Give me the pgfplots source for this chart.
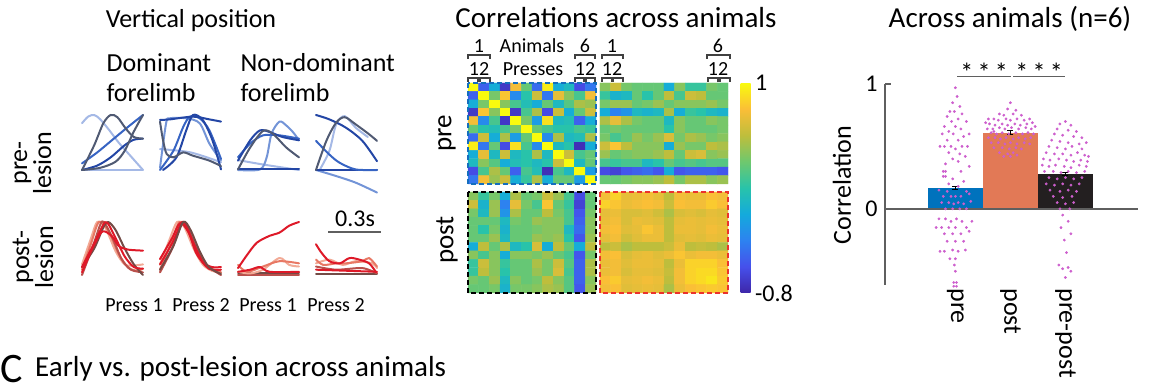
\documentclass[border=0pt]{standalone}
\usepackage{fontspec}
\setmainfont{Carlito}
\usepackage{pgfplots}
\pgfplotsset{compat=1.18}
\definecolor{B1}{RGB}{165,185,230}
\definecolor{B2}{RGB}{115,148,215}
\definecolor{B3}{RGB}{55,100,195}
\definecolor{B4}{RGB}{35,70,165}
\definecolor{B5}{RGB}{80,90,115}
\definecolor{R1}{RGB}{222,25,40}
\definecolor{R2}{RGB}{232,120,100}
\definecolor{R3}{RGB}{242,170,150}
\definecolor{R4}{RGB}{115,75,70}
\definecolor{R5}{RGB}{185,80,75}
\definecolor{preblue}{RGB}{0,114,189}
\definecolor{postorange}{RGB}{226,121,86}
\definecolor{ppblack}{RGB}{35,31,32}
\definecolor{dotpink}{RGB}{205,95,205}
\definecolor{axgray}{RGB}{95,95,95}
\definecolor{dashblue}{RGB}{20,110,190}
\definecolor{dashred}{RGB}{235,50,45}
\pgfplotsset{
  mini/.style={anchor=south west, scale only axis, width=61pt, height=55pt,
    xmin=0, xmax=1, ymin=0, ymax=1, hide axis, clip=false},
  tr/.style={line width=2pt, smooth, tension=0.5, line cap=round, line join=round},
  colormap={parula}{rgb255=(62,38,168) rgb255=(70,80,235) rgb255=(45,130,240) rgb255=(20,170,220) rgb255=(40,195,170) rgb255=(110,200,110) rgb255=(190,190,60) rgb255=(250,190,55) rgb255=(249,251,14)},
  blk/.style 2 args={matrix plot*, mesh/cols=12, point meta=explicit},
}
\newcommand\fs[1]{\fontsize{#1}{#1}\selectfont}
\newcommand\brk[3]{\draw[line width=1.1pt, black!75] (#1,#3-4) -- (#1,#3) -- (#2,#3) -- (#2,#3-4);}
\newcommand\RW{floor((\coordindex+0.5)/12)}
\newcommand\CL{(\coordindex-12*floor((\coordindex+0.5)/12))}
\begin{document}
\begin{tikzpicture}[x=1pt,y=1pt]
\useasboundingbox (0,0) rectangle (1151,387);
% ---------------- left panel texts
\node[anchor=base, font=\fs{26}] at (191,359) {Vertical position};
\node[anchor=base west, font=\fs{26}] at (103,315) {Dominant};
\node[anchor=base west, font=\fs{26}] at (103,285) {forelimb};
\node[anchor=base west, font=\fs{26}] at (237,315) {Non-dominant};
\node[anchor=base west, font=\fs{26}] at (237,285) {forelimb};
\node[rotate=90, align=center, font=\fontsize{26}{24}\selectfont] at (33,224) {pre-\\lesion};
\node[rotate=90, align=center, font=\fontsize{26}{24}\selectfont] at (33,130) {post-\\lesion};
\node[anchor=base, font=\fs{20}] at (134,75) {Press 1};
\node[anchor=base, font=\fs{20}] at (201,75) {Press 2};
\node[anchor=base, font=\fs{20}] at (268,75) {Press 1};
\node[anchor=base, font=\fs{20}] at (336,75) {Press 2};
\draw[line width=2pt, axgray] (328,155) -- (381,155);
\node[anchor=base, font=\fs{24}] at (355,160) {0.3s};
% ---------------- pre-lesion traces
\begin{axis}[mini, at={(82pt,217pt)}]
\addplot[tr,B1] coordinates {(0,0.85)(0.1,0.97)(0.2,1.0)(0.3,0.92)(0.45,0.72)(0.6,0.5)(0.8,0.25)(1,0)};
\addplot[tr,B1] coordinates {(0,0)(0.5,0)(1,0)};
\addplot[tr,B3] coordinates {(0,0.12)(0.25,0.32)(0.5,0.55)(0.75,0.78)(1,1.0)};
\addplot[tr,B4] coordinates {(0,0)(0.25,0.08)(0.47,0.23)(0.7,0.45)(0.85,0.55)(1,0.57)};
\addplot[tr,B5] coordinates {(0,0)(0.2,0.45)(0.35,0.85)(0.47,1.0)(0.58,0.96)(0.72,0.75)(0.85,0.6)(1,0.57)};
\addplot[tr,B5] coordinates {(0,0)(0.3,0.04)(0.55,0.15)(0.7,0.35)(0.85,0.7)(1,1.0)};
\end{axis}
\begin{axis}[mini, at={(160pt,217pt)}]
\addplot[tr,B1] coordinates {(0,0.38)(0.5,0.32)(1,0.14)};
\addplot[tr,B2] coordinates {(0,0.04)(0.1,0.85)(0.16,0.94)(0.43,0.94)(0.65,0.85)(0.81,0.48)(1,0.17)};
\addplot[tr,B3] coordinates {(0,0)(0.22,0.35)(0.38,0.78)(0.49,0.97)(0.65,0.94)(0.81,0.72)(1,0.2)};
\addplot[tr,B4] coordinates {(0,0.91)(0.16,0.92)(0.54,0.97)(0.81,0.92)(1,0.88)};
\addplot[tr,B4] coordinates {(0.05,0)(0.27,0.23)(0.43,0.72)(0.54,1.0)(0.7,0.91)(0.86,0.54)(1,0.01)};
\addplot[tr,B5] coordinates {(0,0.88)(0.05,0.54)(0.11,0.29)(0.22,0.23)(0.38,0.32)(0.54,0.26)(0.81,0.17)(1,0.07)};
\end{axis}
\begin{axis}[mini, at={(238pt,217pt)}]
\addplot[tr,B1] coordinates {(0,0.18)(0.41,0.1)(1,0)};
\addplot[tr,B2] coordinates {(0,0)(0.36,0.01)(0.47,0.23)(0.55,0.66)(0.68,0.88)(0.79,0.81)(0.9,0.69)(1,0.54)};
\addplot[tr,B3] coordinates {(0,0.23)(0.2,0.48)(0.41,0.63)(0.68,0.63)(1,0.57)};
\addplot[tr,B4] coordinates {(0,0.17)(0.2,0.54)(0.36,0.72)(0.52,0.69)(0.73,0.6)(1,0.54)};
\addplot[tr,B4] coordinates {(0,0.01)(0.5,0.01)(1,0.01)};
\addplot[tr,B5] coordinates {(0,0.01)(0.2,0.41)(0.41,0.71)(0.57,0.66)(0.79,0.41)(1,0.23)};
\end{axis}
\begin{axis}[mini, at={(316pt,217pt)}]
\addplot[tr,B2] coordinates {(0,0)(0.33,-0.11)(0.65,-0.23)(1,-0.41)};
\addplot[tr,B1] coordinates {(0.06,0)(0.22,0.35)(0.33,0.83)(0.47,0.98)(0.65,0.77)(0.85,0.6)};
\addplot[tr,B4] coordinates {(0,0)(0.5,0)(1,0)};
\addplot[tr,B3] coordinates {(0,0.53)(0.22,0.28)(0.39,0.13)(0.65,0.01)(1,0)};
\addplot[tr,B4] coordinates {(0,1.0)(0.22,0.92)(0.49,0.77)(0.76,0.53)(1,0.16)};
\addplot[tr,B5] coordinates {(0,0)(0.17,0.53)(0.33,0.86)(0.47,0.96)(0.65,0.83)(0.87,0.65)(1,0.53)};
\end{axis}
% ---------------- post-lesion traces
\begin{axis}[mini, height=53pt, at={(82pt,112pt)}]
\addplot[tr,R3] coordinates {(0,0.2)(0.15,0.7)(0.25,1.0)(0.38,0.9)(0.55,0.45)(0.7,0.2)(0.85,0.18)(1,0.2)};
\addplot[tr,R2] coordinates {(0,0.1)(0.15,0.6)(0.25,0.95)(0.32,1.0)(0.45,0.8)(0.6,0.4)(0.75,0.15)(0.9,0.08)(1,0.12)};
\addplot[tr,R5] coordinates {(0,0)(0.18,0.55)(0.3,0.95)(0.36,1.0)(0.5,0.7)(0.65,0.3)(0.8,0.1)(1,0.05)};
\addplot[tr,R4] coordinates {(0,0.15)(0.2,0.5)(0.35,0.9)(0.43,1.0)(0.55,0.85)(0.7,0.5)(0.85,0.2)(1,0.0)};
\addplot[tr,R1] coordinates {(0,0.05)(0.15,0.45)(0.3,0.78)(0.38,0.82)(0.5,0.72)(0.6,0.55)(0.75,0.48)(1,0.46)};
\addplot[tr,R1] coordinates {(0,0.15)(0.2,0.6)(0.35,0.95)(0.42,0.98)(0.55,0.7)(0.7,0.35)(0.85,0.15)(1,0.12)};
\end{axis}
\begin{axis}[mini, height=53pt, at={(160pt,112pt)}]
\addplot[tr,R3] coordinates {(0,0.2)(0.15,0.65)(0.28,1.0)(0.4,0.9)(0.55,0.5)(0.7,0.2)(0.85,0.08)(1,0.05)};
\addplot[tr,R2] coordinates {(0,0.1)(0.18,0.6)(0.32,1.0)(0.45,0.85)(0.6,0.45)(0.75,0.18)(1,0.05)};
\addplot[tr,R5] coordinates {(0,0.05)(0.2,0.5)(0.35,0.95)(0.45,0.9)(0.6,0.5)(0.75,0.2)(1,0.0)};
\addplot[tr,R1] coordinates {(0,0.2)(0.2,0.6)(0.35,0.98)(0.42,0.95)(0.55,0.6)(0.7,0.25)(0.85,0.15)(1,0.15)};
\addplot[tr,R1] coordinates {(0,0.3)(0.2,0.7)(0.33,0.98)(0.47,0.8)(0.6,0.4)(0.8,0.12)(1,0.1)};
\addplot[tr,R4] coordinates {(0,0.1)(0.22,0.55)(0.38,1.0)(0.5,0.85)(0.65,0.45)(0.8,0.15)(1,0.02)};
\end{axis}
\begin{axis}[mini, height=53pt, at={(238pt,112pt)}]
\addplot[tr,R5] coordinates {(0,0)(0.5,0)(1,0)};
\addplot[tr,R4] coordinates {(0,0.03)(0.5,0.03)(1,0.03)};
\addplot[tr,R3] coordinates {(0,0.06)(0.2,0.03)(0.41,0.1)(0.68,0.32)(0.84,0.19)(1,0.16)};
\addplot[tr,R2] coordinates {(0,0.19)(0.15,0.06)(0.41,0.16)(0.68,0.26)(1,0.22)};
\addplot[tr,R1] coordinates {(0,0.06)(0.2,0.1)(0.36,0.15)(0.52,0.06)(1,0.06)};
\addplot[tr,R1] coordinates {(0,0.13)(0.15,0.38)(0.31,0.61)(0.52,0.74)(0.68,0.8)(0.84,0.93)(1,1.0)};
\end{axis}
\begin{axis}[mini, height=53pt, at={(316pt,112pt)}]
\addplot[tr,R4] coordinates {(0,0.02)(0.5,0.02)(1,0.02)};
\addplot[tr,R3] coordinates {(0,0.22)(0.22,0.29)(0.44,0.19)(0.65,0.26)(0.92,0.22)(1,0.13)};
\addplot[tr,R2] coordinates {(0,0.29)(0.12,0.19)(0.33,0.22)(0.49,0.22)(0.76,0.26)(0.87,0.32)(1,0.16)};
\addplot[tr,R5] coordinates {(0,0.16)(0.33,0.1)(0.76,0.13)(1,0.03)};
\addplot[tr,R1] coordinates {(0,0.1)(0.5,0.08)(1,0.06)};
\addplot[tr,R1] coordinates {(0,0.58)(0.09,0.42)(0.22,0.26)(0.39,0.22)(0.55,0.32)(0.71,0.29)(0.87,0.22)(0.98,0.06)};
\end{axis}
% ---------------- middle panel
\node[anchor=base, font=\fs{29}] at (616,359) {Correlations across animals};
\node[anchor=base, font=\fs{20}] at (479,334) {1};
\node[anchor=base, font=\fs{20}] at (585,334) {6};
\node[anchor=base, font=\fs{20}] at (612,334) {1};
\node[anchor=base, font=\fs{20}] at (718,334) {6};
\node[anchor=base, font=\fs{20}] at (532,334) {Animals};
\node[anchor=base, font=\fs{20}] at (533,311) {Presses};
\node[anchor=base, font=\fs{20}] at (479,311) {12};
\node[anchor=base, font=\fs{20}] at (585,311) {12};
\node[anchor=base, font=\fs{20}] at (612,311) {12};
\node[anchor=base, font=\fs{20}] at (718,311) {12};
\brk{468}{490}{332}\brk{575}{595}{332}\brk{602}{623}{332}\brk{707}{730}{332}
\brk{468}{478}{309}\brk{480}{490}{309}\brk{575}{584}{309}\brk{586}{595}{309}
\brk{602}{612}{309}\brk{613}{623}{309}\brk{708}{718}{309}\brk{720}{730}{309}
\node[rotate=90, font=\fs{27}] at (447,254) {pre};
\node[rotate=90, font=\fs{27}] at (447,147) {post};
\begin{axis}[at={(468pt,94pt)}, anchor=south west, scale only axis, width=260pt, height=210pt,
  xmin=-0.5, xmax=23.87, ymin=-0.5, ymax=24.45, y dir=reverse,
  axis line style={draw=none}, xtick=\empty, ytick=\empty, clip=false,
  colormap name=parula, point meta min=-0.8, point meta max=1,
  colorbar, colorbar style={at={(parent axis.north east)}, anchor=north west, xshift=4pt,
    width=10pt, ytick={-0.8,1}, yticklabels={-0.8,1}, axis line style={draw=none},
    major tick length=0pt, yticklabel style={font=\fs{24}, xshift=1pt}}]
\addplot[matrix plot*, mesh/cols=12, point meta=explicit]
 table[row sep=\\, meta=c, x expr={\CL}, y expr={\RW}] {
c\\
1\\-0.5\\-0.1\\-0.7\\0.75\\0.3\\-0.45\\0.95\\-0.1\\0.0\\-0.6\\-0.4\\
-0.5\\1\\0.35\\0.8\\-0.3\\0.1\\0.6\\-0.4\\0.7\\0.4\\0.2\\0.75\\
-0.1\\0.35\\1\\0.4\\0.2\\0.05\\-0.1\\0.3\\0.0\\0.25\\0.5\\0.45\\
-0.7\\0.8\\0.4\\1\\-0.7\\0.2\\0.5\\-0.6\\0.6\\-0.1\\0.3\\0.6\\
0.75\\-0.3\\0.2\\-0.7\\1\\0.35\\-0.2\\0.9\\0.0\\0.05\\-0.5\\-0.1\\
0.3\\0.1\\0.05\\0.2\\0.35\\1\\0.3\\0.2\\0.1\\0.1\\0.2\\0.15\\
-0.45\\0.6\\-0.1\\0.5\\-0.2\\0.3\\1\\-0.3\\0.5\\0.0\\0.05\\0.5\\
0.95\\-0.4\\0.3\\-0.6\\0.9\\0.2\\-0.3\\1\\0.0\\0.1\\-0.75\\-0.1\\
-0.1\\0.7\\0.0\\0.6\\0.0\\0.1\\0.5\\0.0\\1\\0.6\\0.2\\0.3\\
0.0\\0.4\\0.25\\-0.1\\0.05\\0.1\\0.0\\0.1\\0.6\\1\\0.0\\0.3\\
-0.6\\0.2\\0.5\\0.3\\-0.5\\0.2\\0.05\\-0.75\\0.2\\0.0\\1\\-0.2\\
-0.4\\0.75\\0.45\\0.6\\-0.1\\0.15\\0.5\\-0.1\\0.3\\0.3\\-0.2\\1\\};
\addplot[matrix plot*, mesh/cols=12, point meta=explicit]
 table[row sep=\\, meta=c, x expr={\CL+12.37}, y expr={\RW}] {
c\\
0.4\\0.6\\0.35\\0.3\\0.3\\0.3\\-0.1\\0.4\\0.15\\0.15\\0.35\\0.3\\
0.15\\-0.05\\0.0\\0.3\\0.1\\0.3\\0.55\\0.2\\0.6\\0.55\\0.3\\0.3\\
0.35\\0.45\\0.45\\0.3\\0.35\\0.45\\0.3\\0.4\\0.4\\0.4\\0.45\\0.35\\
-0.1\\-0.35\\-0.25\\0.0\\-0.05\\0.0\\0.5\\-0.1\\0.15\\0.1\\0.0\\-0.05\\
0.5\\0.7\\0.5\\0.35\\0.3\\0.3\\0.0\\0.4\\0.3\\0.3\\0.4\\0.35\\
0.3\\0.35\\0.3\\0.3\\0.3\\0.3\\0.1\\0.4\\0.3\\0.3\\0.3\\0.35\\
0.35\\0.2\\0.3\\0.45\\0.35\\0.45\\0.65\\0.35\\0.5\\0.45\\0.35\\0.4\\
0.6\\0.8\\0.55\\0.4\\0.4\\0.4\\-0.1\\0.45\\0.35\\0.35\\0.55\\0.5\\
0.45\\0.3\\0.35\\0.4\\0.4\\0.45\\0.55\\0.3\\0.6\\0.65\\0.4\\0.45\\
0.2\\0.15\\0.2\\0.2\\0.0\\0.1\\0.3\\0.2\\0.25\\0.2\\0.25\\0.25\\
-0.6\\-0.65\\-0.55\\-0.5\\-0.45\\-0.55\\-0.1\\-0.55\\-0.5\\-0.5\\-0.5\\-0.55\\
0.3\\0.3\\0.35\\0.4\\0.4\\0.45\\0.55\\0.35\\0.5\\0.5\\0.4\\0.45\\};
\addplot[matrix plot*, mesh/cols=12, point meta=explicit]
 table[row sep=\\, meta=c, x expr={\CL}, y expr={\RW+12.95}] {
c\\
0.4\\0.15\\0.35\\-0.1\\0.5\\0.3\\0.35\\0.6\\0.45\\0.2\\-0.6\\0.3\\
0.6\\-0.05\\0.45\\-0.35\\0.7\\0.35\\0.2\\0.8\\0.3\\0.15\\-0.65\\0.3\\
0.35\\0.0\\0.45\\-0.25\\0.5\\0.3\\0.3\\0.55\\0.35\\0.2\\-0.55\\0.35\\
0.3\\0.3\\0.3\\0.0\\0.35\\0.3\\0.45\\0.4\\0.4\\0.2\\-0.5\\0.4\\
0.3\\0.1\\0.35\\-0.05\\0.3\\0.3\\0.35\\0.4\\0.4\\0.0\\-0.45\\0.4\\
0.3\\0.3\\0.45\\0.0\\0.3\\0.3\\0.45\\0.4\\0.45\\0.1\\-0.55\\0.45\\
-0.1\\0.55\\0.3\\0.5\\0.0\\0.1\\0.65\\-0.1\\0.55\\0.3\\-0.1\\0.55\\
0.4\\0.2\\0.4\\-0.1\\0.4\\0.4\\0.35\\0.45\\0.3\\0.2\\-0.55\\0.35\\
0.15\\0.6\\0.4\\0.15\\0.3\\0.3\\0.5\\0.35\\0.6\\0.25\\-0.5\\0.5\\
0.15\\0.55\\0.4\\0.1\\0.3\\0.3\\0.45\\0.35\\0.65\\0.2\\-0.5\\0.5\\
0.35\\0.3\\0.45\\0.0\\0.4\\0.3\\0.35\\0.55\\0.4\\0.25\\-0.5\\0.4\\
0.3\\0.3\\0.35\\-0.05\\0.35\\0.35\\0.4\\0.5\\0.45\\0.25\\-0.55\\0.45\\};
\addplot[matrix plot*, mesh/cols=12, point meta=explicit]
 table[row sep=\\, meta=c, x expr={\CL+12.37}, y expr={\RW+12.95}] {
c\\
0.75\\0.85\\0.7\\0.72\\0.75\\0.7\\0.55\\0.75\\0.72\\0.72\\0.78\\0.75\\
0.85\\0.8\\0.72\\0.75\\0.78\\0.75\\0.6\\0.78\\0.75\\0.75\\0.82\\0.78\\
0.7\\0.72\\0.65\\0.65\\0.68\\0.62\\0.5\\0.65\\0.68\\0.65\\0.7\\0.68\\
0.72\\0.75\\0.65\\0.72\\0.7\\0.68\\0.55\\0.7\\0.72\\0.7\\0.72\\0.7\\
0.75\\0.78\\0.68\\0.7\\0.8\\0.72\\0.55\\0.72\\0.72\\0.7\\0.75\\0.72\\
0.7\\0.75\\0.62\\0.68\\0.72\\0.72\\0.55\\0.68\\0.7\\0.68\\0.72\\0.7\\
0.55\\0.6\\0.5\\0.55\\0.55\\0.55\\0.6\\0.72\\0.55\\0.58\\0.55\\0.5\\
0.75\\0.78\\0.65\\0.7\\0.72\\0.68\\0.72\\0.8\\0.72\\0.75\\0.75\\0.72\\
0.72\\0.75\\0.68\\0.72\\0.72\\0.7\\0.55\\0.72\\0.85\\0.85\\0.85\\0.78\\
0.72\\0.75\\0.65\\0.7\\0.7\\0.68\\0.58\\0.75\\0.85\\0.88\\0.88\\0.8\\
0.78\\0.82\\0.7\\0.72\\0.75\\0.72\\0.55\\0.75\\0.85\\0.88\\0.92\\0.82\\
0.75\\0.78\\0.68\\0.7\\0.72\\0.7\\0.5\\0.72\\0.78\\0.8\\0.82\\0.8\\};
\draw[dashblue, line width=2.5pt, dash pattern=on 5pt off 3pt] (axis cs:-0.5,-0.5) rectangle (axis cs:11.5,11.5);
\draw[black, line width=2.5pt, dash pattern=on 5pt off 3pt] (axis cs:-0.5,12.45) rectangle (axis cs:11.5,24.45);
\draw[dashred, line width=2.5pt, dash pattern=on 5pt off 3pt] (axis cs:11.87,12.45) rectangle (axis cs:23.87,24.45);
\end{axis}
% ---------------- right panel
\node[anchor=base, font=\fs{29}] at (1010,359) {Across animals (n=6)};
\node[rotate=90, font=\fs{26}] at (842,202) {Correlation};
\begin{axis}[at={(885pt,102pt)}, anchor=south west, scale only axis, width=253pt, height=201pt,
  xmin=-0.28, xmax=4.32, ymin=-0.61, ymax=1, clip=false,
  axis y line*=left, axis x line*=bottom, x axis line style={draw=none},
  y axis line style={axgray, line width=1.5pt},
  xtick={1,2,3}, xticklabels={pre,post,pre-post}, xtick style={draw=none},
  xticklabel style={rotate=-90, anchor=west, font=\fs{26}},
  ytick={0,1}, tick align=inside, ytick style={axgray, line width=1.5pt}, major tick length=6pt,
  yticklabel style={font=\fs{24}, xshift=-4pt},
  /pgf/number format/assume math mode=true]
\addplot[ybar, bar width=55pt, bar shift=0pt, fill=preblue, draw=none] coordinates {(1,0.17)};
\addplot[ybar, bar width=55pt, bar shift=0pt, fill=postorange, draw=none] coordinates {(2,0.61)};
\addplot[ybar, bar width=55pt, bar shift=0pt, fill=ppblack, draw=none] coordinates {(3,0.28)};
\draw[axgray, line width=1.5pt] (axis cs:-0.28,0) -- (axis cs:4.32,0);
\addplot[only marks, mark=*, mark size=1.2pt, dotpink, mark options={draw=none, fill=dotpink}] coordinates {
(1.0,0.97)(1.03,0.9)(0.95,0.85)(1.08,0.82)(0.9,0.78)(0.98,0.78)(1.12,0.76)(0.85,0.74)(1.05,0.72)(0.93,0.7)(1.2,0.7)(0.8,0.66)(1.0,0.66)(1.1,0.64)(0.88,0.62)(0.76,0.6)(0.96,0.6)(1.15,0.58)(1.25,0.6)(0.85,0.55)(1.05,0.55)(0.72,0.5)(0.8,0.5)(0.92,0.5)(1.0,0.48)(1.12,0.5)(1.22,0.5)(0.88,0.45)(1.08,0.44)(1.18,0.42)(0.95,0.4)(1.05,0.38)(0.82,0.36)(1.25,0.34)(0.78,0.3)(0.82,0.3)(1.1,0.3)(0.78,0.26)(0.82,0.26)(0.95,0.24)(1.15,0.22)(0.88,0.2)(1.05,0.18)(0.7,0.15)(0.85,0.14)(1.2,0.14)(0.78,0.1)(0.92,0.1)(1.0,0.1)(1.1,0.1)(1.25,0.12)(0.75,0.05)(0.88,0.05)(0.97,0.04)(1.05,0.05)(1.15,0.04)(1.28,0.06)(0.82,0.0)(0.95,0.0)(1.08,0.0)(1.2,0.0)(0.7,-0.08)(0.82,-0.08)(0.92,-0.1)(1.02,-0.08)(1.12,-0.1)(1.3,-0.1)(0.65,-0.15)(0.75,-0.15)(0.88,-0.15)(1.0,-0.15)(1.2,-0.15)(0.8,-0.2)(0.95,-0.2)(1.1,-0.2)(1.25,-0.18)(0.85,-0.26)(1.0,-0.26)(1.15,-0.26)(0.72,-0.34)(0.8,-0.34)(0.95,-0.33)(1.05,-0.34)(1.18,-0.33)(0.9,-0.4)(1.0,-0.4)(0.98,-0.45)(1.0,-0.5)(0.97,-0.59)(1.02,-0.59)(0.97,-0.62)(1.02,-0.62)
(2.0,0.85)(1.95,0.8)(2.1,0.79)(1.8,0.76)(1.88,0.75)(2.05,0.76)(2.2,0.75)(1.6,0.72)(1.7,0.72)(1.78,0.71)(1.92,0.72)(2.0,0.71)(2.12,0.72)(2.25,0.71)(2.35,0.72)(1.62,0.68)(1.72,0.67)(1.85,0.68)(1.95,0.67)(2.08,0.68)(2.18,0.67)(2.3,0.68)(2.4,0.69)(1.58,0.64)(1.68,0.64)(1.8,0.65)(1.9,0.64)(2.02,0.65)(2.15,0.64)(2.28,0.65)(2.38,0.64)(1.65,0.61)(1.75,0.6)(1.85,0.61)(1.97,0.6)(2.1,0.61)(2.22,0.6)(2.32,0.61)(2.42,0.6)(1.6,0.57)(1.72,0.57)(1.82,0.56)(1.92,0.57)(2.05,0.56)(2.15,0.57)(2.27,0.56)(2.37,0.57)(1.65,0.53)(1.78,0.53)(1.9,0.52)(2.0,0.53)(2.12,0.52)(2.25,0.53)(2.35,0.52)(1.7,0.49)(1.85,0.49)(1.98,0.48)(2.1,0.49)(2.2,0.48)(1.8,0.45)(1.95,0.44)(2.05,0.45)(1.88,0.42)(2.0,0.42)(2.12,0.43)(1.7,0.62)(2.45,0.66)(1.55,0.69)
(3.0,0.7)(2.9,0.68)(3.1,0.67)(2.85,0.64)(3.05,0.63)(3.2,0.62)(2.8,0.6)(2.95,0.59)(3.15,0.58)(3.3,0.57)(2.75,0.55)(2.9,0.54)(3.05,0.53)(3.25,0.52)(3.38,0.53)(2.7,0.5)(2.85,0.49)(3.0,0.48)(3.12,0.5)(3.3,0.48)(2.65,0.45)(2.8,0.44)(2.95,0.44)(3.1,0.43)(3.22,0.45)(3.35,0.43)(3.42,0.42)(2.6,0.4)(2.72,0.39)(2.88,0.4)(3.02,0.39)(3.15,0.38)(3.28,0.39)(3.4,0.38)(2.58,0.35)(2.7,0.34)(2.82,0.35)(2.98,0.34)(3.1,0.33)(3.25,0.35)(3.38,0.34)(2.62,0.3)(2.78,0.3)(2.92,0.29)(3.05,0.3)(3.2,0.29)(3.35,0.3)(2.7,0.25)(2.85,0.24)(3.0,0.25)(3.15,0.24)(3.3,0.25)(2.65,0.2)(2.8,0.19)(2.95,0.2)(3.1,0.19)(3.25,0.2)(2.72,0.15)(2.9,0.14)(3.05,0.15)(3.2,0.14)(2.78,0.1)(2.95,0.09)(3.12,0.1)(2.85,0.05)(3.0,0.04)(3.15,0.05)(2.9,0.0)(3.08,0.0)(2.95,-0.05)(3.05,-0.1)(2.92,-0.15)(3.1,-0.2)(2.98,-0.25)(3.02,-0.35)(2.88,-0.45)(2.95,-0.48)(3.05,-0.47)(3.1,-0.5)(3.0,-0.55)
};
\addplot[draw=none, mark=none, error bars/.cd, y dir=both, y explicit,
  error bar style={black, line width=1.4pt}, error mark options={black, rotate=90, mark size=3pt, line width=1.2pt}]
  coordinates {(1,0.17) +- (0,0.012) (2,0.61) +- (0,0.015) (3,0.28) +- (0,0.012)};
\draw[axgray, line width=1.5pt] (axis cs:1.03,1.06) -- (axis cs:2.01,1.06);
\draw[axgray, line width=1.5pt] (axis cs:2.05,1.06) -- (axis cs:3.0,1.06);
\node[anchor=base, font=\fs{26}] at (axis cs:1.52,1.02) {*\,*\,*};
\node[anchor=base, font=\fs{26}] at (axis cs:2.52,1.02) {*\,*\,*};
\end{axis}
% ---------------- bottom text
\node[anchor=base west, inner sep=0pt, font=\fs{42}] at (0,4) {C};
\node[anchor=base west, inner sep=0pt, font=\fs{29}] at (35,10) {Early vs. post-lesion across animals};
\end{tikzpicture}
\end{document}
